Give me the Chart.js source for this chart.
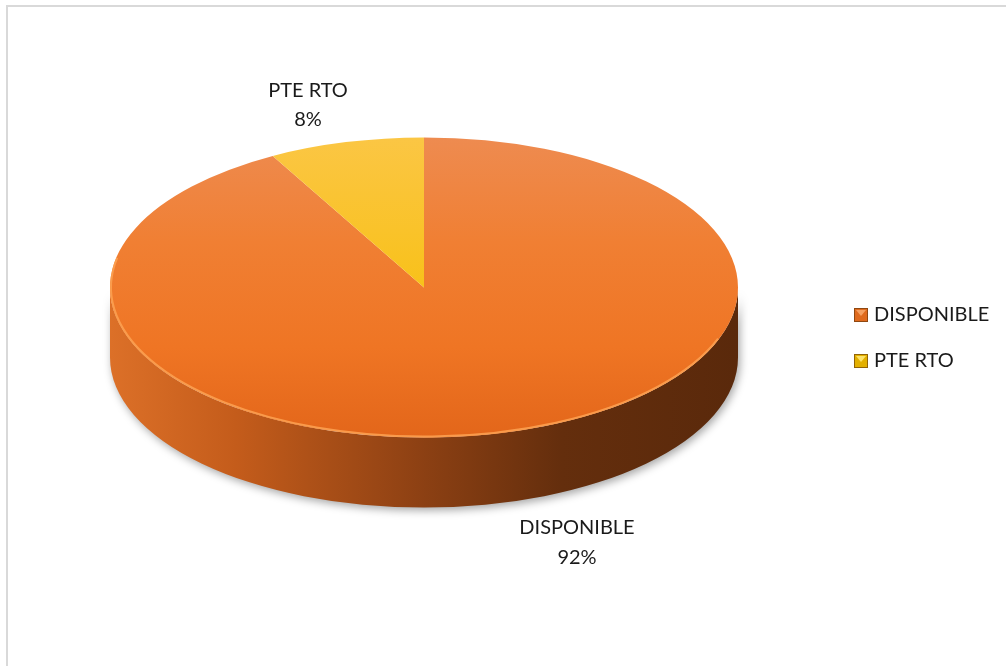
<!DOCTYPE html>
<html lang="es">
<head>
  <meta charset="UTF-8">
  <title>DISPONIBLE / PTE RTO</title>
  <script src="https://cdn.jsdelivr.net/npm/chart.js"></script>
  <style>
    html, body {
      margin: 0;
      padding: 0;
      background: #fff;
      overflow: hidden;
    }
    .frame {
      position: absolute;
      left: 6px;
      top: 5px;
      width: 1100px;
      height: 800px;
      border: 2px solid #d9d9d9;
    }
    #pieChart {
      position: absolute;
      left: 0;
      top: 0;
    }
  </style>
</head>
<body>
  <div class="frame"></div>
  <canvas id="pieChart" width="1006" height="666"></canvas>

  <script>
    const labels = ['DISPONIBLE', 'PTE RTO'];
    const values = [92, 8];

    // look of the tilted pie
    const TILT = 0.478;     // vertical squash of the top face
    const DEPTH = 70;       // thickness of the side wall
    const CENTER_Y = 287.5; // screen y of the top face centre
    const FONT = '20px Lato, "Open Sans", sans-serif';
    const TEXT = '#1a1a1a';

    const topStops = [
      [[0, '#ee8b50'], [0.35, '#f07f33'], [0.7, '#ef7524'], [1, '#e3661a']],
      [[0, '#fbc644'], [0.5, '#f8c11a'], [1, '#f2b800']]
    ];
    const sideStops = [
      [[0, '#dc7028'], [0.2, '#c45c1b'], [0.5, '#8c4013'], [0.72, '#642e0d'], [1, '#5a290b']],
      [[0, '#d9a200'], [0.5, '#a67800'], [1, '#7a5800']]
    ];
    const legendColors = [['#df6a1d', '#f5a061'], ['#e3b000', '#fde36a']];

    // where Excel put the data labels and the legend
    const labelPos = [[577, 534, 564], [308, 97, 126]];
    const legendPos = { x: 854, y: [308, 354], size: 14, textX: 874, base: [321, 367] };

    function gradient(ctx, x0, y0, x1, y1, stops) {
      const g = ctx.createLinearGradient(x0, y0, x1, y1);
      stops.forEach(s => g.addColorStop(s[0], s[1]));
      return g;
    }

    const pie3d = {
      id: 'pie3d',
      beforeDatasetsDraw(chart) {
        const ctx = chart.ctx;
        const arcs = chart.getDatasetMeta(0).data;
        const cx = arcs[0].x, cy = arcs[0].y, r = arcs[0].outerRadius;

        // side wall, only the front half shows
        ctx.save();
        ctx.shadowColor = 'rgba(0,0,0,0.35)';
        ctx.shadowBlur = 8;
        ctx.shadowOffsetX = 2;
        ctx.shadowOffsetY = 3;
        arcs.forEach((arc, i) => {
          for (const off of [-2 * Math.PI, 0, 2 * Math.PI]) {
            const a1 = Math.max(arc.startAngle, off);
            const a2 = Math.min(arc.endAngle, off + Math.PI);
            if (a2 <= a1) continue;
            ctx.beginPath();
            ctx.ellipse(cx, CENTER_Y, r, r * TILT, 0, a1, a2);
            ctx.ellipse(cx, CENTER_Y + DEPTH, r, r * TILT, 0, a2, a1, true);
            ctx.closePath();
            ctx.fillStyle = gradient(ctx, cx - r, 0, cx + r, 0, sideStops[i]);
            ctx.fill();
          }
        });
        ctx.restore();

        // squash the pie itself into the top face
        ctx.save();
        ctx.translate(0, CENTER_Y);
        ctx.scale(1, TILT);
        ctx.translate(0, -cy);
      },
      afterDatasetsDraw(chart) {
        const ctx = chart.ctx;
        ctx.restore();

        const arc = chart.getDatasetMeta(0).data[0];
        const cx = arc.x, r = arc.outerRadius;

        // light rim on the front edge
        ctx.save();
        ctx.strokeStyle = 'rgba(252,160,80,0.9)';
        ctx.lineWidth = 2;
        ctx.beginPath();
        ctx.ellipse(cx, CENTER_Y, r - 1, r * TILT - 1, 0, 0.35, Math.PI + 0.2);
        ctx.stroke();
        ctx.restore();
      },
      afterDraw(chart) {
        const ctx = chart.ctx;
        const data = chart.data.datasets[0].data;
        const total = data.reduce((a, b) => a + b, 0);

        ctx.save();
        ctx.font = FONT;
        ctx.fillStyle = TEXT;
        ctx.textBaseline = 'alphabetic';

        // data labels
        ctx.textAlign = 'center';
        chart.data.labels.forEach((name, i) => {
          const p = labelPos[i];
          ctx.fillText(name, p[0], p[1]);
          ctx.fillText(Math.round(data[i] / total * 100) + '%', p[0], p[2]);
        });

        // legend
        ctx.textAlign = 'left';
        chart.data.labels.forEach((name, i) => {
          const x = legendPos.x, y = legendPos.y[i], s = legendPos.size;
          ctx.fillStyle = legendColors[i][0];
          ctx.fillRect(x, y, s, s);
          ctx.fillStyle = legendColors[i][1];
          ctx.beginPath();
          ctx.moveTo(x + 2, y + 2);
          ctx.lineTo(x + s - 2, y + 2);
          ctx.lineTo(x + s / 2, y + s / 2 + 1);
          ctx.closePath();
          ctx.fill();
          ctx.strokeStyle = 'rgba(90,50,10,0.6)';
          ctx.lineWidth = 1;
          ctx.strokeRect(x + 0.5, y + 0.5, s - 1, s - 1);
          ctx.fillStyle = TEXT;
          ctx.fillText(name, legendPos.textX, legendPos.base[i]);
        });
        ctx.restore();
      }
    };

    new Chart(document.getElementById('pieChart'), {
      type: 'pie',
      data: {
        labels: labels,
        datasets: [{
          data: values,
          borderWidth: 0,
          clip: false,
          backgroundColor: (c) => {
            const area = c.chart.chartArea;
            if (!area) return topStops[c.dataIndex][1][1];
            return gradient(c.chart.ctx, 0, area.top, 0, area.bottom, topStops[c.dataIndex]);
          }
        }]
      },
      options: {
        responsive: false,
        animation: false,
        events: [],
        layout: {
          padding: { left: 110, right: 268, top: 19, bottom: 19 }
        },
        plugins: {
          legend: { display: false },
          tooltip: { enabled: false }
        }
      },
      plugins: [pie3d]
    });
  </script>
</body>
</html>
